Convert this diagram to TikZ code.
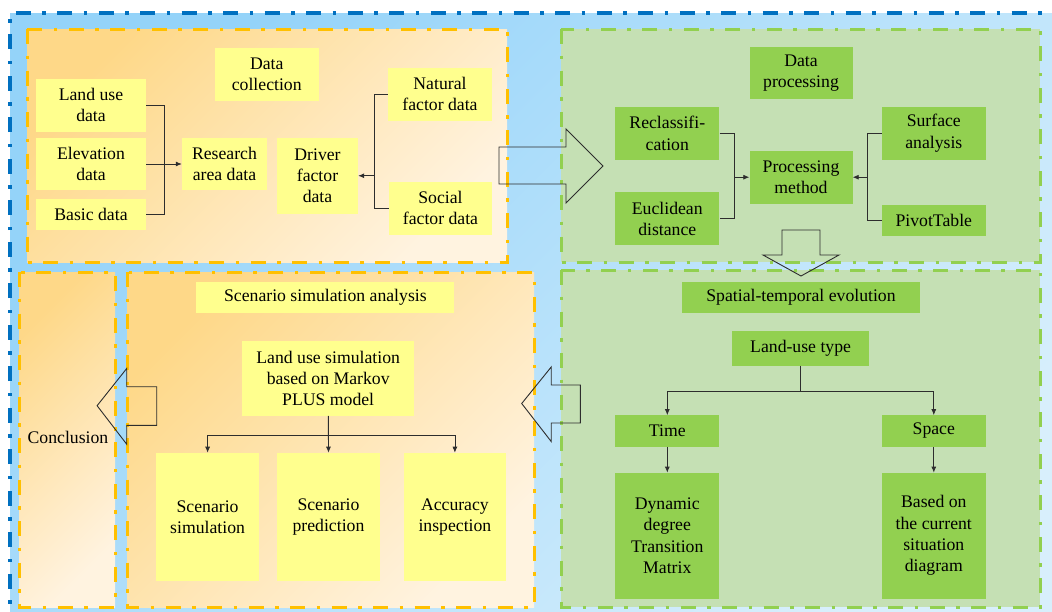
\documentclass[tikz,border=0pt]{standalone}
\usepackage{fontspec}
\setmainfont{Liberation Serif}
\usetikzlibrary{arrows.meta}
\definecolor{outerblue}{RGB}{0,112,192}
\definecolor{skyA}{RGB}{148,211,249}
\definecolor{skyB}{RGB}{216,239,252}
\definecolor{frameorange}{RGB}{255,192,0}
\definecolor{peachA}{RGB}{254,216,136}
\definecolor{peachB}{RGB}{255,243,224}
\definecolor{framegreen}{RGB}{146,208,80}
\definecolor{sage}{RGB}{197,224,180}
\definecolor{boxyellow}{RGB}{255,255,142}
\definecolor{boxgreen}{RGB}{146,208,80}
\definecolor{linegray}{RGB}{45,45,45}

\tikzset{
	dashdot/.style={dash pattern=on 15pt off 11.5pt on 3.5pt off 11.5pt},
	ybox/.style={fill=boxyellow, align=center, inner sep=0pt},
	gbox/.style={fill=boxgreen, align=center, inner sep=0pt},
	link/.style={draw=linegray, line width=0.8pt},
	hollow/.style={draw=linegray, line width=0.9pt, line join=miter},
}

\begin{document}
\begin{tikzpicture}[x=1pt, y=-1pt, >={Latex[length=6pt,width=5pt]},
	every node/.style={font=\fontsize{17.7}{21.3}\selectfont}]
	\useasboundingbox (0,0) rectangle (1052,611);
	\clip (0,0) rectangle (1052,611);
	
	%outer frame
	\shade[top color=skyA, bottom color=skyB, shading angle=45] (10,13) rectangle (1070,630);
	\draw[outerblue, line width=4pt, dashdot] (10,630) -- (10,13) -- (1070,13);
	
	%panels
	\shade[top color=peachA, bottom color=peachB, shading angle=45] (27,29) rectangle (507,262);
	\draw[frameorange, line width=3pt, dashdot] (27,29) rectangle (507,262);
	\fill[sage] (561,29) rectangle (1040,262);
	\draw[framegreen, line width=3pt, dashdot] (561,29) rectangle (1040,262);
	\fill[sage] (561,270) rectangle (1040,607);
	\draw[framegreen, line width=3pt, dashdot] (561,270) rectangle (1040,607);
	\shade[top color=peachA, bottom color=peachB, shading angle=45] (19,272) rectangle (115,607);
	\draw[frameorange, line width=3pt, dashdot] (19,272) rectangle (115,607);
	\shade[top color=peachA, bottom color=peachB, shading angle=45] (127,272) rectangle (534,607);
	\draw[frameorange, line width=3pt, dashdot] (127,272) rectangle (534,607);
	
	%data collection
	\node[ybox, minimum width=103.5, minimum height=53] (datacol) at (266.75,74) {Data\\collection};
	\node[ybox, minimum width=110, minimum height=53.5] (landuse) at (91,105.25) {Land use\\data};
	\node[ybox, minimum width=110, minimum height=52] (elev) at (91,164) {Elevation\\data};
	\node[ybox, minimum width=110, minimum height=31] (basic) at (91,214.5) {Basic data};
	\node[ybox, minimum width=85, minimum height=52] (research) at (224.5,164) {Research\\area data};
	\node[ybox, minimum width=81, minimum height=75.5] (driver) at (317.5,175.75) {Driver\\factor\\data};
	\node[ybox, minimum width=104, minimum height=52.5] (natural) at (440,94.25) {Natural\\factor data};
	\node[ybox, minimum width=103, minimum height=53.5] (social) at (440.5,208.25) {Social\\factor data};
		\draw[link] (landuse.east) -- ++(18,0) |- (basic.east);
		\draw[link, ->] (elev.east) -- (research.west);
		\draw[link] (natural.west) -- ++(-13.5,0) coordinate (nb) |- (social.west);
		\draw[link, ->] (nb |- driver.east) -- (driver.east);
	
	%data processing
	\node[gbox, minimum width=103, minimum height=52] (dataproc) at (801,73) {Data\\processing};
	\node[gbox, minimum width=104, minimum height=52.5] (reclass) at (667.3,133.25) {Reclassifi-\\cation};
	\node[gbox, minimum width=104, minimum height=52.6] (euclid) at (667.3,218.7) {Euclidean\\distance};
	\node[gbox, minimum width=103, minimum height=53] (procmeth) at (801,177.2) {Processing\\method};
	\node[gbox, minimum width=104, minimum height=52.5] (surface) at (933.8,133.25) {Surface\\analysis};
	\node[gbox, minimum width=104, minimum height=30.5] (pivot) at (933.8,220.25) {PivotTable};
		\draw[link] (reclass.east) -- ++(15.3,0) coordinate (rc) |- (euclid.east);
		\draw[link, ->] (rc |- procmeth.west) -- (procmeth.west);
		\draw[link] (surface.west) -- ++(-13.9,0) coordinate (sc) |- (pivot.west);
		\draw[link, ->] (sc |- procmeth.east) -- (procmeth.east);
	
	%spatial-temporal evolution
	\node[gbox, minimum width=238.5, minimum height=30.6] (spatial) at (801,297.3) {Spatial-temporal evolution};
	\node[gbox, minimum width=136.4, minimum height=34.5] (landtype) at (800.6,348.25) {Land-use type};
	\node[gbox, minimum width=104, minimum height=31.2] (time) at (667.3,431) {Time};
	\node[gbox, minimum width=104, minimum height=31.2] (space) at (933.8,431) {Space};
	\node[gbox, minimum width=104, minimum height=125.8] (dynamic) at (667.3,535.7) {Dynamic\\degree\\Transition\\Matrix};
	\node[gbox, minimum width=104, minimum height=125.8] (based) at (933.8,535.7) {Based on\\the current\\situation\\diagram};
		\draw[link] (landtype.south) -- ++(0,25.8) coordinate (lt);
		\draw[link, ->] (lt) -| (time.north);
		\draw[link, ->] (lt) -| (space.north);
		\draw[link, ->] (time.south) -- (dynamic.north);
		\draw[link, ->] (space.south) -- (based.north);
	
	%scenario simulation analysis
	\node[ybox, minimum width=258, minimum height=30.3] (scenan) at (325.4,297.5) {Scenario simulation analysis};
	\node[ybox, minimum width=172.3, minimum height=74.3] (lusim) at (328.2,378.5) {Land use simulation\\based on Markov\\PLUS model};
	\node[ybox, minimum width=103.3, minimum height=128.2] (scsim) at (207.6,517) {Scenario\\simulation};
	\node[ybox, minimum width=102.6, minimum height=128.2] (scpred) at (328.5,517) {Scenario\\prediction};
	\node[ybox, minimum width=102.6, minimum height=128.2] (accur) at (454.9,517) {Accuracy\\inspection};
		\draw[link] (lusim.south) -- ++(0,20) coordinate (ls);
		\draw[link, ->] (ls) -| (scsim.north);
		\draw[link, ->] (ls |- lusim.south) -- (scpred.north);
		\draw[link, ->] (ls) -| (accur.north);
	
	%conclusion
	\node (concl) at (68,437) {Conclusion};
	
	%hollow block arrows
	\draw[hollow] (499,147) -- (566,147) -- (566,129) -- (603,166) -- (566,203) -- (566,184) -- (499,184) -- cycle;
	\draw[hollow] (782,230) -- (820,230) -- (820,255) -- (839,255) -- (801,276) -- (763,255) -- (782,255) -- cycle;
	\draw[hollow] (580.4,385) -- (551.2,385) -- (551.2,367) -- (521.7,403.5) -- (551.2,441.5) -- (551.2,423) -- (580.4,423) -- cycle;
	\draw[hollow] (156.7,386.7) -- (126.7,386.7) -- (126.7,368.5) -- (97.1,405.7) -- (126.7,444.2) -- (126.7,425.3) -- (156.7,425.3) -- cycle;
\end{tikzpicture}
\end{document}
